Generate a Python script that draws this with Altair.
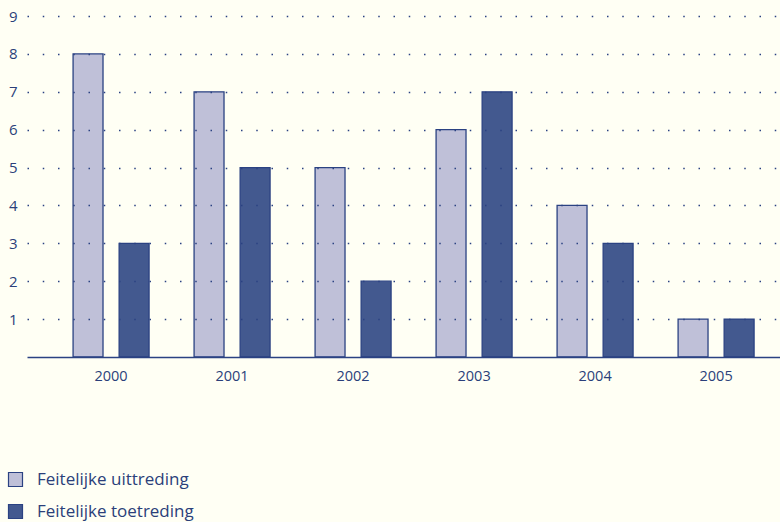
import altair as alt
import pandas as pd

years = ["2000", "2001", "2002", "2003", "2004", "2005"]
uittreding = [8, 7, 5, 6, 4, 1]
toetreding = [3, 5, 2, 7, 3, 1]
series = ["Feitelijke uittreding", "Feitelijke toetreding"]
y_ticks = [1, 2, 3, 4, 5, 6, 7, 8, 9]

rows = []
for i, yr in enumerate(years):
    rows.append({"year": yr, "series": series[0], "value": uittreding[i]})
    rows.append({"year": yr, "series": series[1], "value": toetreding[i]})
df = pd.DataFrame(rows)

LIGHT = "#bfc0d8"
DARK = "#43598f"
STROKE = "#2b4282"
TEXT = "#2b3f7a"
FONT = "Open Sans"

chart = alt.Chart(df).mark_bar(stroke=STROKE, strokeWidth=1.3).encode(
    x=alt.X(
        "year:N",
        sort=years,
        scale=alt.Scale(paddingInner=0.372, paddingOuter=0.2975, align=0.64),
        axis=alt.Axis(
            title=None, labelAngle=0, ticks=False, domain=True,
            domainColor=STROKE, domainWidth=1.6, labelPadding=12,
            labelFontSize=14.5, labelColor=TEXT, labelFont=FONT, zindex=1,
        ),
    ),
    xOffset=alt.XOffset("series:N", sort=series,
                        scale=alt.Scale(paddingInner=0.35, paddingOuter=0)),
    y=alt.Y(
        "value:Q",
        scale=alt.Scale(domain=[0, 9], nice=False),
        axis=alt.Axis(
            title=None, values=y_ticks, grid=True, gridDash=[1.5, 13.75],
            gridColor=STROKE, gridWidth=1.5, domain=False, ticks=False,
            labelPadding=10, labelFontSize=15, labelColor=TEXT, labelFont=FONT,
            zindex=1,
        ),
    ),
    color=alt.Color(
        "series:N", sort=series,
        scale=alt.Scale(domain=series, range=[LIGHT, DARK]),
        legend=alt.Legend(
            title=None, orient="none", legendX=-20, legendY=455,
            symbolType="square", symbolSize=196, symbolStrokeColor=STROKE,
            symbolStrokeWidth=1.2, labelFontSize=17, labelOffset=13,
            labelColor=TEXT, labelFont=FONT, rowPadding=13,
        ),
    ),
).properties(
    width=753, height=341,
    background="#fffff4",
    padding={"left": 27, "top": 16, "right": 0, "bottom": 165},
    autosize=alt.AutoSizeParams(type="none"),
).configure_view(stroke=None)

chart.save("out.html", embed_options={"renderer": "svg", "actions": False})
